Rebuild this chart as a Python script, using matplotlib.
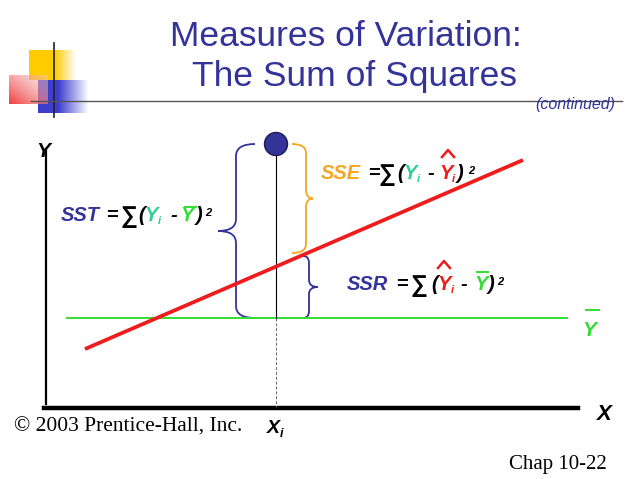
import numpy as np
import matplotlib.pyplot as plt
from matplotlib.path import Path
from matplotlib.patches import PathPatch, Circle

# данные схемы (в пикселях слайда)
reg_x = [85, 523]          # линия регрессии
reg_y = [349, 160]
mean_x = [67, 567]         # линия среднего Y
y_bar = 318
x_i = 276                  # наблюдение (Xi, Yi)
y_i = 144
y_hat_i = 254              # значение на линии регрессии при Xi

title_lines = ["Measures of Variation:", "The Sum of Squares"]

BLUE = '#333399'
ORANGE = '#F5A623'
TEAL = '#33CC99'
GREEN = '#33DD33'
RED = '#EE1C1C'
SANS = ['Liberation Sans', 'DejaVu Sans']
SERIF = ['Liberation Serif', 'DejaVu Serif']

fig = plt.figure(figsize=(6.38, 4.79), dpi=100)
ax = fig.add_axes([0, 0, 1, 1])
ax.set_xlim(0, 638)
ax.set_ylim(479, 0)
ax.axis('off')


def grad_box(x0, x1, y0, y1, rgb, solid=0.5, alpha=1.0):
    # прямоугольник, уходящий в прозрачность вправо
    n = 64
    a = np.ones(n)
    k = int(n * solid)
    a[k:] = np.linspace(1, 0, n - k)
    img = np.zeros((2, n, 4))
    img[..., :3] = rgb
    img[..., 3] = a * alpha
    ax.imshow(img, extent=(x0, x1, y1, y0), aspect='auto', zorder=1)


grad_box(29, 76, 50, 80, (1.0, 0.8, 0.0), solid=0.55)
# розовый квадрат с диагональным градиентом
n = 48
gx, gy = np.meshgrid(np.linspace(0, 1, n), np.linspace(0, 1, n))
t = np.clip((gx + (1 - gy)) / 2, 0, 1)
img = np.zeros((n, n, 4))
img[..., 0] = 0.95
img[..., 1] = 0.2 + 0.6 * t
img[..., 2] = 0.2 + 0.6 * t
img[..., 3] = 0.95 - 0.5 * t
ax.imshow(img, extent=(9, 48, 104, 75), aspect='auto', zorder=2)
grad_box(38, 89, 80, 113, (0.2, 0.2, 0.8), solid=0.4, alpha=0.95)
ax.plot([54, 54], [43, 117], color='#222222', lw=1.2, zorder=3)
ax.plot([31, 622], [101, 101], color='#555555', lw=1.0, zorder=3)
ax.set_xlim(0, 638)
ax.set_ylim(479, 0)

# заголовок
ax.text(346, 46, title_lines[0], color=BLUE, fontsize=25.5, family=SANS,
        ha='center', va='baseline')
ax.text(355, 86, title_lines[1], color=BLUE, fontsize=25.5, family=SANS,
        ha='center', va='baseline')
ax.text(615, 109, '(continued)', color=BLUE, fontsize=11.5, family=SANS,
        style='italic', ha='right', va='baseline')

# оси
ax.plot([46, 46], [150, 404], color='black', lw=1.6)
ax.plot([44, 578], [408, 408], color='black', lw=3.2)
ax.text(36, 157, 'Y', fontsize=15, family=SANS, weight='bold', style='italic',
        va='baseline')
ax.text(596, 420, 'X', fontsize=16, family=SANS, weight='bold', style='italic',
        va='baseline')
ax.text(267, 433, 'X', fontsize=14, family=SANS, weight='bold', style='italic',
        va='baseline')
ax.text(280, 437, 'i', fontsize=9, family=SANS, weight='bold', style='italic',
        va='baseline')

# линии
ax.plot(mean_x, [y_bar, y_bar], color=GREEN, lw=1.4, zorder=4)
ax.plot(reg_x, reg_y, color=RED, lw=2.7, zorder=5, solid_capstyle='butt')
ax.plot([x_i, x_i], [y_i, y_bar], color='black', lw=0.8, zorder=4)
ax.plot([x_i, x_i], [y_bar, 407], color='#666666', lw=0.7, ls=(0, (3, 2)), zorder=4)
ax.add_patch(Circle((x_i, y_i), 11.5, facecolor=BLUE, edgecolor='#1a1a55',
                    lw=1.0, zorder=6))


def brace(x_end, x_stem, x_tip, y0, y1, color, r):
    ym = (y0 + y1) / 2
    verts = [(x_end, y0), (x_stem, y0), (x_stem, y0 + r),
             (x_stem, ym - r), (x_stem, ym), (x_tip, ym),
             (x_stem, ym), (x_stem, ym + r),
             (x_stem, y1 - r), (x_stem, y1), (x_end, y1)]
    codes = [Path.MOVETO, Path.CURVE3, Path.CURVE3,
             Path.LINETO, Path.CURVE3, Path.CURVE3,
             Path.CURVE3, Path.CURVE3,
             Path.LINETO, Path.CURVE3, Path.CURVE3]
    ax.add_patch(PathPatch(Path(verts, codes), facecolor='none',
                           edgecolor=color, lw=1.3, zorder=3))


brace(255, 236, 218, y_i, y_bar, BLUE, 12)
brace(292, 306, 313, y_i, y_hat_i - 1, ORANGE, 9)
brace(303, 309, 318, y_hat_i + 2, y_bar, BLUE, 7)


def put(x, y, s, color='black', size=14.5, italic=True, bold=True):
    ax.text(x, y, s, color=color, fontsize=size, family=SANS,
            weight='bold' if bold else 'normal',
            style='italic' if italic else 'normal', va='baseline', zorder=7)


def hat(x, y, color):
    ax.plot([x, x + 6, x + 12], [y, y - 7, y], color=color, lw=1.8, zorder=7)


def bar(x0, x1, y, color):
    ax.plot([x0, x1], [y, y], color=color, lw=1.4, zorder=7)


# SST = Σ(Yi - Ȳ)²
b = 221
put(61, b, 'SST', BLUE)
put(106, b, '=', italic=False)
put(120, b + 2, '∑', size=17, italic=False)
put(138, b, '(')
put(144, b, 'Y', TEAL)
put(158, b + 3, 'i', TEAL, size=8)
put(170, b, '-')
put(180, b, 'Y', GREEN)
bar(185, 196, 207, GREEN)
put(196, b, ')')
put(205, b - 5, '2', size=8)

# SSE = Σ(Yi - Ŷi)²
b = 179
put(321, b, 'SSE', ORANGE)
put(368, b, '=', italic=False)
put(379, b + 2, '∑', size=17, italic=False)
put(397, b, '(')
put(403, b, 'Y', TEAL)
put(417, b + 3, 'i', TEAL, size=8)
put(427, b, '-')
put(439, b, 'Y', RED)
hat(442, 157, RED)
put(452, b + 3, 'i', RED, size=8)
put(457, b, ')')
put(468, b - 5, '2', size=8)

# SSR = Σ(Ŷi - Ȳ)²
b = 290
put(347, b, 'SSR', BLUE)
put(396, b, '=', italic=False)
put(411, b + 2, '∑', size=17, italic=False)
put(431, b, '(')
put(437, b, 'Y', RED)
hat(438, 268, RED)
put(451, b + 3, 'i', RED, size=8)
put(460, b, '-')
put(474, b, 'Y', GREEN)
bar(477, 488, 272, GREEN)
put(488, b, ')')
put(497, b - 5, '2', size=8)

# подпись среднего
put(582, 336, 'Y', GREEN, size=15)
bar(586, 599, 310, GREEN)

# нижние подписи
ax.text(14, 432, '© 2003 Prentice-Hall, Inc.', fontsize=15.5, family=SERIF,
        va='baseline')
ax.text(607, 469, 'Chap 10-22', fontsize=15, family=SERIF, ha='right',
        va='baseline')

fig.savefig('out.png', dpi=100)
